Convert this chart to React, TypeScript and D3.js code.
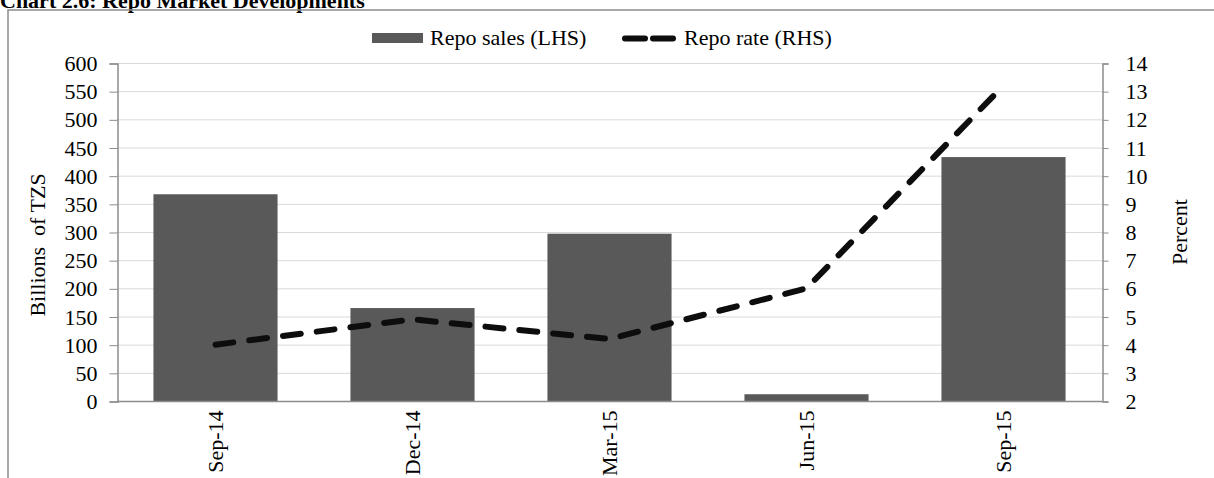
import React, { useEffect, useRef } from "react";
import * as d3 from "d3";

const categories = ["Sep-14", "Dec-14", "Mar-15", "Jun-15", "Sep-15"];
const repoSales = [367, 165, 297, 12, 433];
const repoRate = [4.0, 4.9, 4.2, 6.0, 13.2];
const leftTicks = d3.range(0, 601, 50);
const rightTicks = d3.range(2, 15, 1);

const App: React.FC = () => {
  const ref = useRef<SVGSVGElement>(null);

  useEffect(() => {
    const width = 1214;
    const height = 478;
    const left = 117;
    const right = 1102;
    const top = 63;
    const bottom = 401;
    const font = "'Liberation Serif', 'Times New Roman', serif";
    const fontSize = "22px";

    const svg = d3.select(ref.current);
    svg.selectAll("*").remove();
    svg.attr("width", width).attr("height", height).attr("font-family", font);

    // Title, clipped at the top edge
    svg
      .append("text")
      .attr("x", 0)
      .attr("y", 8)
      .style("font-weight", "bold")
      .style("font-size", "22px")
      .text("Chart 2.6: Repo Market Developments");

    // Frame
    svg
      .append("path")
      .attr("d", `M8,${height} L8,10 L${width},10`)
      .attr("fill", "none")
      .attr("stroke", "#8c8c8c")
      .attr("stroke-width", 1.5);

    const x = d3
      .scaleBand()
      .domain(categories)
      .range([left, right])
      .paddingInner(0.37)
      .paddingOuter(0.185);
    const yL = d3.scaleLinear().domain([0, 600]).range([bottom, top]);
    const yR = d3.scaleLinear().domain([2, 14]).range([bottom, top]);

    // Gridlines
    svg
      .append("g")
      .selectAll("line")
      .data(leftTicks.slice(1))
      .join("line")
      .attr("x1", left)
      .attr("x2", right)
      .attr("y1", (d) => yL(d) + 0.5)
      .attr("y2", (d) => yL(d) + 0.5)
      .attr("stroke", "#d9d9d9")
      .attr("stroke-width", 1);

    // Bars
    svg
      .append("g")
      .selectAll("rect")
      .data(categories)
      .join("rect")
      .attr("x", (d) => x(d)!)
      .attr("y", (d, i) => yL(repoSales[i]))
      .attr("width", x.bandwidth())
      .attr("height", (d, i) => bottom - yL(repoSales[i]))
      .attr("fill", "#595959");

    // Axes
    const axisColor = "#8c8c8c";
    const leftAxis = svg
      .append("g")
      .attr("transform", `translate(${left + 0.5},0.5)`)
      .call(d3.axisLeft(yL).tickValues(leftTicks).tickSize(8).tickPadding(12));
    const rightAxis = svg
      .append("g")
      .attr("transform", `translate(${right + 0.5},0.5)`)
      .call(d3.axisRight(yR).tickValues(rightTicks).tickSize(6).tickPadding(17));
    const bottomAxis = svg
      .append("g")
      .attr("transform", `translate(0,${bottom + 0.5})`)
      .call(d3.axisBottom(x).tickSize(0).tickPadding(0));

    [leftAxis, rightAxis, bottomAxis].forEach((g) => {
      g.attr("font-family", font).attr("font-size", fontSize);
      g.select(".domain").attr("stroke", axisColor).attr("stroke-width", 1.5);
      g.selectAll(".tick line").attr("stroke", axisColor);
      g.selectAll("text").attr("fill", "#000");
    });
    bottomAxis.select(".domain").attr("d", `M${left},0H${right}`);
    bottomAxis
      .selectAll<SVGTextElement, string>("text")
      .attr("transform", "rotate(-90)")
      .attr("x", -9)
      .attr("y", 0)
      .attr("dy", "0.35em")
      .style("text-anchor", "end");

    // Rate line
    const line = d3
      .line<number>()
      .x((d, i) => x(categories[i])! + x.bandwidth() / 2)
      .y((d) => yR(d));
    svg
      .append("path")
      .datum(repoRate)
      .attr("d", line)
      .attr("fill", "none")
      .attr("stroke", "#0d0d0d")
      .attr("stroke-width", 6)
      .attr("stroke-linecap", "round")
      .attr("stroke-dasharray", "18,16");

    // Axis titles
    svg
      .append("text")
      .attr("transform", `translate(45,245) rotate(-90)`)
      .attr("text-anchor", "middle")
      .style("font-size", fontSize)
      .style("white-space", "pre")
      .text("Billions  of TZS");
    svg
      .append("text")
      .attr("transform", `translate(1187,232) rotate(-90)`)
      .attr("text-anchor", "middle")
      .style("font-size", fontSize)
      .text("Percent");

    // Legend
    const legend = svg.append("g");
    legend
      .append("rect")
      .attr("x", 372)
      .attr("y", 33)
      .attr("width", 51)
      .attr("height", 10)
      .attr("fill", "#595959");
    legend
      .append("text")
      .attr("x", 430)
      .attr("y", 45)
      .style("font-size", fontSize)
      .text("Repo sales (LHS)");
    legend
      .append("line")
      .attr("x1", 625)
      .attr("x2", 673)
      .attr("y1", 38.5)
      .attr("y2", 38.5)
      .attr("stroke", "#0d0d0d")
      .attr("stroke-width", 6)
      .attr("stroke-linecap", "round")
      .attr("stroke-dasharray", "20,8");
    legend
      .append("text")
      .attr("x", 684)
      .attr("y", 45)
      .style("font-size", fontSize)
      .text("Repo rate (RHS)");
  }, []);

  return (
    <svg
      ref={ref}
      style={{ position: "absolute", left: 0, top: 0, display: "block" }}
    />
  );
};

export default App;
